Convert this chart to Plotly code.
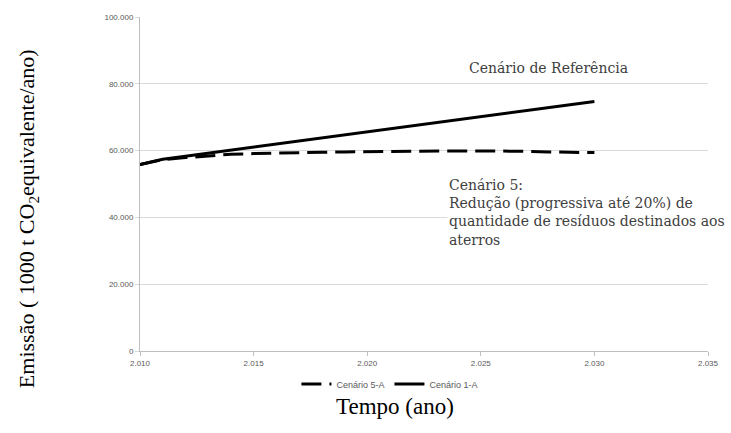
import plotly.graph_objects as go

# Annual emissions (1000 t CO2 equivalent / year)
years = list(range(2010, 2031))
cenario_1a = [55800, 57400, 58300, 59200, 60100, 61000, 61900, 62800, 63700,
              64600, 65500, 66400, 67300, 68200, 69100, 70000, 70900, 71800,
              72700, 73700, 74700]
cenario_5a = [55800, 57300, 57900, 58500, 58900, 59100, 59300, 59400, 59500,
              59600, 59700, 59800, 59900, 59900, 59900, 59900, 59900, 59800,
              59600, 59500, 59400]

x_ticks = [2010, 2015, 2020, 2025, 2030, 2035]
y_ticks = [0, 20000, 40000, 60000, 80000, 100000]

fig = go.Figure()
fig.add_trace(go.Scatter(
    x=years, y=cenario_5a, mode="lines", name="Cenário 5-A",
    line=dict(color="black", width=3, dash="20px,8px"),
))
fig.add_trace(go.Scatter(
    x=years, y=cenario_1a, mode="lines", name="Cenário 1-A",
    line=dict(color="black", width=3),
))

tick_font = dict(family="Liberation Sans", size=8, color="#595959")
serif = "Liberation Serif"
note_font = dict(family="DejaVu Serif", size=14, color="#404040")

fig.update_layout(
    width=731, height=433,
    margin=dict(l=140, r=12, t=17, b=82),
    paper_bgcolor="white", plot_bgcolor="white",
    separators=",.",
    showlegend=True,
    legend=dict(orientation="h", x=0.44, y=-0.099, xanchor="center",
                yanchor="middle", font=dict(family="Liberation Sans", size=9,
                                            color="#595959"),
                itemwidth=30, bgcolor="rgba(0,0,0,0)"),
    xaxis=dict(range=[2010, 2035], tickvals=x_ticks, tickformat=",d",
               showgrid=False, zeroline=False, showline=True,
               linecolor="#bfbfbf", linewidth=1, ticks="outside",
               ticklen=4, tickcolor="#bfbfbf", tickfont=tick_font),
    yaxis=dict(range=[0, 100000], tickvals=y_ticks, tickformat=",d",
               showgrid=True, gridcolor="#d9d9d9", gridwidth=1,
               zeroline=False, showline=True, linecolor="#bfbfbf",
               linewidth=1, ticks="outside", ticklen=4, tickcolor="#d9d9d9",
               tickfont=tick_font),
    annotations=[
        dict(text="Cenário de Referência", xref="paper", yref="paper",
             x=0.575, y=0.847, xanchor="left", yanchor="middle",
             showarrow=False, bgcolor="white", font=note_font),
        dict(text="Cenário 5:<br>Redução (progressiva até 20%) de<br>"
                  "quantidade de resíduos destinados aos<br>aterros",
             xref="paper", yref="paper", x=0.541, y=0.416,
             xanchor="left", yanchor="middle", align="left",
             showarrow=False, bgcolor="white", font=note_font),
        dict(text="Emissão ( 1000 t CO<sub>2</sub>equivalente/ano)",
             xref="paper", yref="paper", x=-0.197, y=0.395,
             xanchor="center", yanchor="middle", textangle=-90,
             showarrow=False, font=dict(family=serif, size=22, color="black")),
        dict(text="Tempo (ano)", xref="paper", yref="paper",
             x=0.449, y=-0.165, xanchor="center", yanchor="middle",
             showarrow=False, font=dict(family=serif, size=23, color="black")),
    ],
)

fig.write_html("out.html")
